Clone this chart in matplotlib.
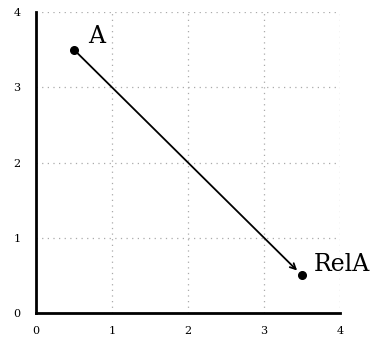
import matplotlib.pyplot as plt

plt.rcParams['font.family'] = ['DejaVu Serif']

# points and labels
names = ['A', 'RelA']
xs = [0.5, 3.5]
ys = [3.5, 0.5]
label_x = [0.68, 3.66]
label_y = [3.68, 0.65]
ticks = [0, 1, 2, 3, 4]

fig = plt.figure(figsize=(3.77, 3.37), dpi=100)
ax = fig.add_axes([0.0955, 0.0712, 0.8065, 0.8928])

ax.set_xlim(0, 4)
ax.set_ylim(0, 4)
ax.set_xticks(ticks)
ax.set_yticks(ticks)
ax.tick_params(length=0, labelsize=8, pad=9)
ax.tick_params(axis='y', pad=11)
ax.grid(True, linestyle=(0, (1, 3.5)), color='#aaaaaa', linewidth=0.9)
ax.set_axisbelow(True)

for s in ['top', 'right']:
    ax.spines[s].set_visible(False)
for s in ['left', 'bottom']:
    ax.spines[s].set_linewidth(2)
    ax.spines[s].set_zorder(5)

ax.annotate('', xy=(xs[1], ys[1]), xytext=(xs[0], ys[0]),
            arrowprops=dict(arrowstyle='->', color='black', lw=1.3,
                            shrinkA=0, shrinkB=5))
ax.plot(xs, ys, 'o', color='black', ms=5.5, linestyle='none', zorder=6)

for n, lx, ly in zip(names, label_x, label_y):
    ax.text(lx, ly, n, fontsize=17, ha='left', va='center')

fig.savefig('out.png', dpi=100)
